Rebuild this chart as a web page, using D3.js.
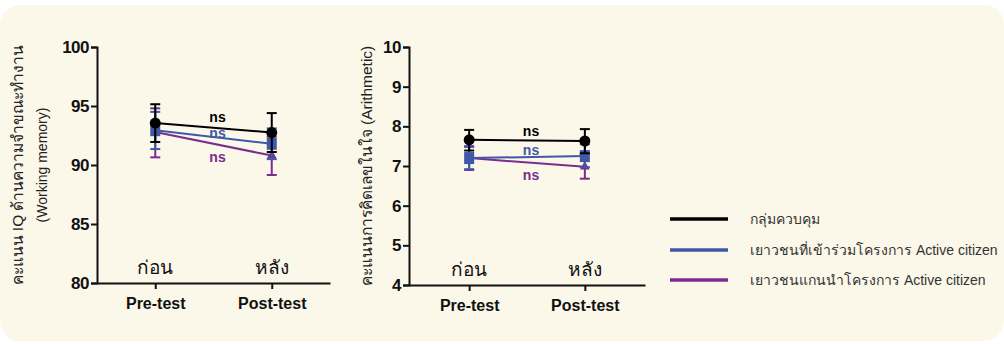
<!DOCTYPE html>
<html><head><meta charset="utf-8">
<script src="https://cdn.jsdelivr.net/npm/d3@7"></script>
<style>
body{margin:0;background:#fff;}
svg{display:block;font-family:"Liberation Sans",Arial,sans-serif;}
</style></head>
<body><svg id="c" width="1004" height="344"></svg>
<script>
const categories = ["Pre-test", "Post-test"];
const thaiCats = ["ก่อน", "หลัง"];
const seriesNames = ["กลุ่มควบคุม", "เยาวชนที่เข้าร่วมโครงการ Active citizen", "เยาวชนแกนนำโครงการ Active citizen"];
const seriesColors = ["#000000", "#4058a8", "#7a2d8c"];
const markerShapes = ["circle", "square", "triangle"];

// Working memory (left)
const wmMean = [[93.55, 92.75], [92.95, 91.8], [92.8, 90.8]];
const wmLow  = [[91.95, 91.1], [91.35, 90.5], [90.65, 89.15]];
const wmHigh = [[95.15, 94.4], [94.5, 93.1], [94.8, 92.4]];
const wmTicks = [80, 85, 90, 95, 100];

// Arithmetic (right)
const arMean = [[7.66, 7.63], [7.2, 7.25], [7.2, 6.98]];
const arLow  = [[7.39, 7.32], [6.92, 6.97], [6.9, 6.68]];
const arHigh = [[7.91, 7.93], [7.48, 7.55], [7.5, 7.3]];
const arTicks = [4, 5, 6, 7, 8, 9, 10];

const nsLabel = "ns";

const svg = d3.select("#c");

// background panel
svg.append("rect").attr("x", 0).attr("y", 5).attr("width", 1004).attr("height", 336)
  .attr("rx", 20).attr("fill", "#fbf7e9");

function panel(opts) {
  const {axisX, xEnd, yTop, yBot, domain, ticks, mean, low, high, pad, nsY, titles} = opts;
  const x = d3.scalePoint().domain(categories).range([axisX, xEnd]).padding(pad);
  const y = d3.scaleLinear().domain(domain).range([yBot, yTop]);
  const g = svg.append("g");

  // y axis
  const ya = g.append("g").attr("transform", `translate(${axisX},0)`)
    .call(d3.axisLeft(y).tickValues(ticks).tickSize(6).tickPadding(2).tickFormat(d3.format("d")));
  ya.select(".domain").attr("stroke", "#111").attr("stroke-width", 2);
  ya.selectAll(".tick line").attr("stroke", "#111").attr("stroke-width", 2);
  ya.selectAll(".tick text").attr("font-size", 17).attr("font-weight", "bold")
    .attr("fill", "#111").attr("font-family", "Liberation Sans, Arial, sans-serif").attr("letter-spacing", "-0.5");

  // x axis
  const xa = g.append("g").attr("transform", `translate(0,${yBot})`)
    .call(d3.axisBottom(x).tickSize(6).tickPadding(9).tickSizeOuter(0));
  xa.select(".domain").attr("stroke", "#111").attr("stroke-width", 2);
  xa.selectAll(".tick line").attr("stroke", "#111").attr("stroke-width", 2);
  xa.selectAll(".tick text").attr("font-size", 16).attr("font-weight", "bold")
    .attr("fill", "#111").attr("font-family", "Liberation Sans, Arial, sans-serif");

  // thai category labels
  g.selectAll(".thai").data(categories).enter().append("text")
    .attr("x", d => x(d)).attr("y", yBot - 9).attr("text-anchor", "middle")
    .attr("font-size", 19).attr("fill", "#111").text((d, i) => thaiCats[i]);

  // series drawn back-to-front: purple, blue, black
  [2, 1, 0].forEach(s => {
    const col = seriesColors[s];
    const pts = categories.map((c, i) => ({c, m: mean[s][i], lo: low[s][i], hi: high[s][i]}));
    // error bars
    pts.forEach(p => {
      const cx = x(p.c);
      g.append("line").attr("x1", cx).attr("x2", cx).attr("y1", y(p.lo)).attr("y2", y(p.hi))
        .attr("stroke", col).attr("stroke-width", 2);
      [p.lo, p.hi].forEach(v => g.append("line").attr("x1", cx - 5).attr("x2", cx + 5)
        .attr("y1", y(v)).attr("y2", y(v)).attr("stroke", col).attr("stroke-width", 2));
    });
    g.append("path").datum(pts)
      .attr("d", d3.line().x(p => x(p.c)).y(p => y(p.m)))
      .attr("fill", "none").attr("stroke", col).attr("stroke-width", 2);
    pts.forEach(p => {
      const cx = x(p.c), cy = y(p.m);
      if (markerShapes[s] === "circle") {
        g.append("circle").attr("cx", cx).attr("cy", cy).attr("r", 5.5).attr("fill", col);
      } else if (markerShapes[s] === "square") {
        g.append("rect").attr("x", cx - 5).attr("y", cy - 6).attr("width", 10).attr("height", 12).attr("fill", col);
      } else {
        g.append("path").attr("d", d3.symbol().type(d3.symbolTriangle).size(40)())
          .attr("transform", `translate(${cx},${cy})`).attr("fill", col);
      }
    });
    // ns label
    g.append("text").attr("x", (x(categories[0]) + x(categories[1])) / 2 + 4)
      .attr("y", nsY[s]).attr("text-anchor", "middle").attr("dominant-baseline", "central")
      .attr("font-size", 14).attr("font-weight", "bold").attr("fill", col).text(nsLabel);
  });

  // axis titles
  titles.forEach(t => {
    svg.append("text").attr("transform", `translate(${t.x},${(yTop + yBot) / 2}) rotate(-90)`)
      .attr("text-anchor", "middle").attr("font-size", t.size).attr("fill", "#222").text(t.text);
  });
}

panel({axisX: 97, xEnd: 330, yTop: 47, yBot: 283, domain: [80, 100], ticks: wmTicks,
  mean: wmMean, low: wmLow, high: wmHigh, pad: 0.5, nsY: [117, 133, 157],
  titles: [{x: 23, size: 15.5, text: "คะแนน IQ ด้านความจำขณะทำงาน"}, {x: 47, size: 14, text: "(Working memory)"}]});

panel({axisX: 409, xEnd: 645, yTop: 47, yBot: 285, domain: [4, 10], ticks: arTicks,
  mean: arMean, low: arLow, high: arHigh, pad: 0.52, nsY: [131, 150, 175],
  titles: [{x: 372, size: 15.5, text: "คะแนนการคิดเลขในใจ (Arithmetic)"}]});

// legend
const leg = svg.append("g");
seriesNames.forEach((n, i) => {
  const yy = [219, 250, 280][i];
  leg.append("line").attr("x1", 670).attr("x2", 728).attr("y1", yy).attr("y2", yy)
    .attr("stroke", seriesColors[i]).attr("stroke-width", 3.5);
  leg.append("text").attr("x", 750).attr("y", yy).attr("dominant-baseline", "central")
    .attr("font-size", 14).attr("fill", "#333").text(n);
});
</script></body></html>
